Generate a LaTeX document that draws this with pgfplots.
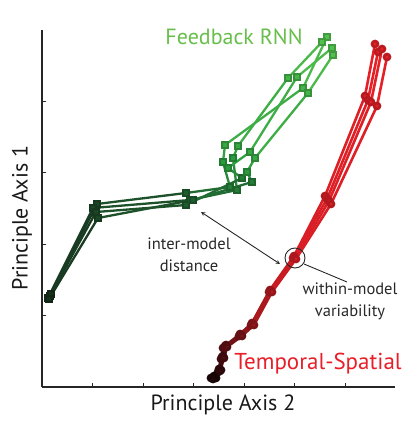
\documentclass[border=0pt]{standalone}
\usepackage{fontspec}
\setmainfont{PT Sans}
\usepackage{pgfplots}
\pgfplotsset{compat=1.18}
\pgfplotsset{
  colormap={greens}{rgb255(0cm)=(22,48,28) rgb255(2cm)=(30,92,46) rgb255(4cm)=(42,155,62) rgb255(7cm)=(82,192,78)},
  colormap={reds}{rgb255(0cm)=(30,8,8) rgb255(4cm)=(125,20,25) rgb255(7cm)=(215,30,36) rgb255(10cm)=(232,32,40)}
}
\definecolor{fbgreen}{RGB}{104,190,75}
\definecolor{tsred}{RGB}{232,30,40}
\definecolor{annot}{RGB}{40,40,40}
\begin{document}
\begin{tikzpicture}
\path[use as bounding box] (-42pt,-47pt) rectangle (373pt,387pt);
\begin{axis}[
  scale only axis, width=353pt, height=357pt,
  xmin=42, xmax=395, ymin=-387, ymax=-30,
  axis x line*=bottom, axis y line*=left,
  axis line style={line width=1.3pt, color=black!85},
  xtick={92.5,143,193.5,244,294.5,345},
  ytick={-315.5,-244,-172.5,-101},
  xticklabels={}, yticklabels={},
  tick align=inside, major tick length=4pt,
  tick style={line width=0.8pt, color=black!85},
  clip=false,
  point meta min=0, point meta max=1,
]
% Feedback RNN (green)
\addplot[mesh, scatter, point meta=explicit, colormap name=greens, line width=2.3pt, mark=square*, mark size=3.2pt]
 coordinates {(50,-296)[0] (97,-204)[0.143] (186,-193)[0.286] (230,-187)[0.429] (223,-162)[0.571] (225,-145)[0.714] (303,-88)[0.857] (327,-37)[1]};
\addplot[mesh, scatter, point meta=explicit, colormap name=greens, line width=2.3pt, mark=square*, mark size=3.2pt]
 coordinates {(48,-298)[0] (93,-208)[0.143] (190,-200)[0.286] (237,-190)[0.429] (233,-158)[0.571] (238,-146)[0.714] (288,-78)[0.857] (322,-42)[1]};
\addplot[mesh, scatter, point meta=explicit, colormap name=greens, line width=2.3pt, mark=square*, mark size=3.2pt]
 coordinates {(51,-294)[0] (96,-212)[0.143] (186,-205)[0.286] (242,-178)[0.429] (228,-168)[0.571] (250,-152)[0.714] (297,-77)[0.857] (332,-48)[1]};
\addplot[mesh, scatter, point meta=explicit, colormap name=greens, line width=2.3pt, mark=square*, mark size=3.2pt]
 coordinates {(49,-299)[0] (98,-218)[0.143] (193,-200)[0.286] (252,-182)[0.429] (247,-172)[0.571] (255,-158)[0.714] (308,-93)[0.857] (333,-55)[1]};
% Temporal-Spatial (red)
\addplot[mesh, scatter, point meta=explicit, colormap name=reds, line width=2.6pt, mark=*, mark size=3pt]
 coordinates {(211,-378)[0] (218,-372)[0.1] (221,-359)[0.2] (223,-348)[0.3] (239,-336)[0.4] (251,-325)[0.5] (269,-292)[0.6] (293,-258)[0.7] (325,-196)[0.8] (365,-96)[0.9] (375,-44)[1]};
\addplot[mesh, scatter, point meta=explicit, colormap name=reds, line width=2.6pt, mark=*, mark size=3pt]
 coordinates {(214,-376)[0] (219,-369)[0.1] (222,-357)[0.2] (225,-346)[0.3] (240,-334)[0.4] (252,-323)[0.5] (270,-290)[0.6] (294,-256)[0.7] (327,-199)[0.8] (368,-100)[0.9] (378,-52)[1]};
\addplot[mesh, scatter, point meta=explicit, colormap name=reds, line width=2.6pt, mark=*, mark size=3pt]
 coordinates {(216,-378)[0] (221,-370)[0.1] (223,-356)[0.2] (226,-345)[0.3] (241,-335)[0.4] (253,-324)[0.5] (271,-291)[0.6] (295,-258)[0.7] (329,-201)[0.8] (371,-102)[0.9] (382,-49)[1]};
\addplot[mesh, scatter, point meta=explicit, colormap name=reds, line width=2.6pt, mark=*, mark size=3pt]
 coordinates {(213,-379)[0] (220,-371)[0.1] (224,-358)[0.2] (227,-347)[0.3] (242,-336)[0.4] (254,-325)[0.5] (272,-292)[0.6] (296,-259)[0.7] (331,-204)[0.8] (377,-106)[0.9] (387,-57)[1]};
% annotations
\draw[annot, line width=0.9pt] (axis cs:295,-258) circle[radius=10pt];
\draw[annot, line width=0.9pt, <->, >=stealth] (axis cs:201,-212) -- (axis cs:280,-264);
\draw[annot, line width=0.9pt] (axis cs:304,-264) -- (axis cs:347,-282);
\node[annot, align=center, font=\fontsize{16.5}{22}\selectfont] at (axis cs:189,-255) {inter-model\\distance};
\node[annot, align=center, font=\fontsize{16.5}{22}\selectfont] at (axis cs:350,-301) {within-model\\variability};
\node[fbgreen, font=\fontsize{22}{26}\selectfont] at (axis cs:234,-37) {Feedback RNN};
\node[tsred, font=\fontsize{23}{27}\selectfont] at (axis cs:318,-364) {Temporal-Spatial};
\node[black!90, font=\fontsize{22}{26}\selectfont] at (axis cs:223,-405) {Principle Axis 2};
\node[black!90, rotate=90, font=\fontsize{22}{26}\selectfont] at (axis cs:22,-218) {Principle Axis 1};
\end{axis}
\end{tikzpicture}
\end{document}
